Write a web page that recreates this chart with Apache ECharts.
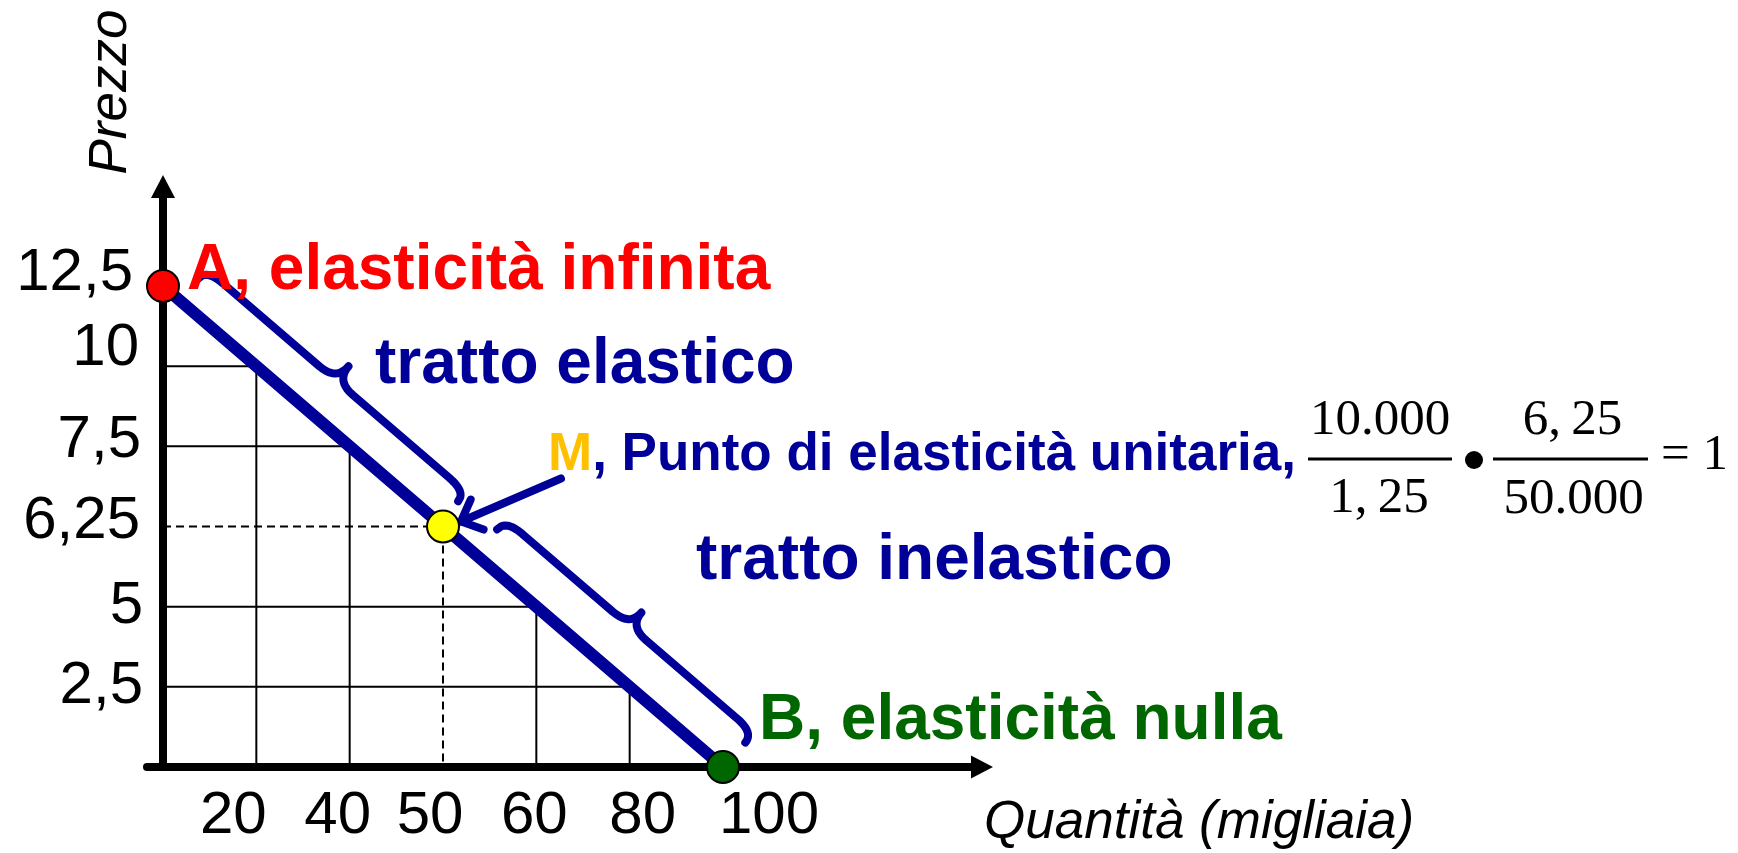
<!DOCTYPE html>
<html><head><meta charset="utf-8">
<script src="https://cdn.jsdelivr.net/npm/echarts@6/dist/echarts.min.js"></script>
<style>html,body{margin:0;padding:0;background:#fff}#c{width:1738px;height:853px}</style>
</head><body><div id="c"></div>
<script>
// ---- data ----
const quantityTicks = [0, 20, 40, 50, 60, 80, 100];          // Quantità (migliaia)
const priceTicks = [0, 2.5, 5, 6.25, 7.5, 10, 12.5];          // Prezzo
const demandQuantity = [0, 20, 40, 50, 60, 80, 100];
const demandPrice = [12.5, 10, 7.5, 6.25, 5, 2.5, 0];
const boxQuantity = [20, 40, 60, 80];
const boxPrice = [10, 7.5, 5, 2.5];
const pointNames = ['A', 'M', 'B'];
const pointQuantity = [0, 50, 100];
const pointPrice = [12.5, 6.25, 0];
const pointTexts = [', elasticità infinita', ', Punto di elasticità unitaria,', ', elasticità nulla'];
const segmentNames = ['tratto elastico', 'tratto inelastico'];
const segmentFrom = ['A', 'M'];
const segmentTo = ['M', 'B'];
const formulaNumerators = ['10.000', '6,\u200925'];
const formulaDenominators = ['1,\u200925', '50.000'];
const formulaResult = '= 1';
const axisNames = ['Quantità (migliaia)', 'Prezzo'];

// ---- helpers ----
const SANS = 'Liberation Sans, Arial, sans-serif';
const SERIF = 'Liberation Serif, Times New Roman, serif';
const NAVY = '#000099';
const W = 1738, H = 853;
const fmt = v => String(v).replace('.', ',');
const xi = q => quantityTicks.indexOf(q);
const yi = p => priceTicks.indexOf(p);
const ptIdx = n => pointNames.indexOf(n);

// label nudges (style)
const xShift = [0, -23, -12, -13, -2, 13, 46];
const yNudge = [[0,0],[0,0],[0,0],[3,5],[2,6],[4,18],[10,13]]; // [left, up]
const xRich = {}, yRich = {};
xShift.forEach((d, i) => {
  xRich['x' + i] = {fontSize: 60, fontFamily: SANS, color: '#000',
    padding: d < 0 ? [0, -2 * d, 0, 0] : [0, 0, 0, 2 * d]};
});
yNudge.forEach((n, i) => {
  yRich['y' + i] = {fontSize: 60, fontFamily: SANS, color: '#000',
    padding: [0, n[0], 2 * n[1], 0]};
});

const pointStyles = [
  {color: '#ff0000', label: {position: 'right', distance: 7, offset: [0, -15], color: '#ff0000'}},
  {color: '#ffff00', label: {position: 'right', distance: 0, offset: [88, -71.5], color: NAVY}},
  {color: '#006600', label: {position: 'right', distance: 19, offset: [0, -46], color: '#006600'}}
];

const BRACE_W = 8;
const braceCfg = [
  {u0: 22, u1: -5, body: 41, end: 29, cusp: 60},
  {u0: 43, u1: 1, body: 46, end: 33, cusp: 64}
];
function quadPts(s, c, e, out) {
  for (let k = 0; k <= 10; k++) {
    const t = k / 10, a = (1 - t) * (1 - t), b = 2 * (1 - t) * t, d = t * t;
    out.push([a * s[0] + b * c[0] + d * e[0], a * s[1] + b * c[1] + d * e[1]]);
  }
}
function bracePoints(p0, p1, c) {
  const dx = p1[0] - p0[0], dy = p1[1] - p0[1], L = Math.hypot(dx, dy);
  const ux = dx / L, uy = dy / L, nx = uy, ny = -ux;
  const P = (u, v) => [p0[0] + u * ux + v * nx, p0[1] + u * uy + v * ny];
  const a = c.u0, b = L + c.u1, m = (a + b) / 2, rE = 22, rC = 22;
  const pts = [];
  quadPts(P(a, c.end), P(a, c.body), P(a + rE, c.body), pts);
  quadPts(P(m - rC, c.body), P(m, c.body), P(m, c.cusp), pts);
  quadPts(P(m, c.cusp), P(m, c.body), P(m + rC, c.body), pts);
  quadPts(P(b - rE, c.body), P(b, c.body), P(b, c.end), pts);
  return pts;
}

const thin = {color: '#000', width: 2};
const series = [];
boxQuantity.forEach((q, i) => {
  series.push({type: 'line', xAxisIndex: 0, yAxisIndex: 0, symbol: 'none', silent: true, clip: false, z: 1,
    lineStyle: thin,
    data: [[xi(0), yi(boxPrice[i])], [xi(q), yi(boxPrice[i])], [xi(q), yi(0)]]});
});
series.push({type: 'line', symbol: 'none', silent: true, clip: false, z: 1,
  lineStyle: {color: '#000', width: 2, type: [8, 5]},
  data: [[xi(0), yi(pointPrice[1])], [xi(pointQuantity[1]), yi(pointPrice[1])], [xi(pointQuantity[1]), yi(0)]]});
series.push({type: 'line', symbol: 'none', silent: true, clip: false, z: 2,
  lineStyle: {color: NAVY, width: 12},
  data: demandQuantity.map((q, i) => [xi(q), yi(demandPrice[i])])});
series.push({type: 'scatter', symbol: 'circle', symbolSize: 32, clip: false, z: 5, silent: true,
  itemStyle: {opacity: 1},
  emphasis: {disabled: true},
  data: pointNames.map((n, i) => ({
    value: [xi(pointQuantity[i]), yi(pointPrice[i])],
    itemStyle: {color: pointStyles[i].color, borderColor: '#000', borderWidth: 2, opacity: 1},
    label: Object.assign({show: true, opacity: 1, fontSize: n === 'M' ? 53 : 64, fontWeight: 'bold', fontFamily: SANS,
      formatter: n === 'M' ? '{m|' + n + '}{t|' + pointTexts[i] + '}' : n + pointTexts[i],
      rich: n === 'M' ? {
        m: {color: '#ffc000', fontSize: 53, fontWeight: 'bold', fontFamily: SANS},
        t: {color: NAVY, fontSize: 53, fontWeight: 'bold', fontFamily: SANS}} : undefined
    }, pointStyles[i].label)
  }))});

const txt = (x, y, text, extra) => ({type: 'text', x: x, y: y, silent: true,
  style: Object.assign({text: text, fontFamily: SANS, fill: '#000', align: 'left', verticalAlign: 'middle',
    textAlign: 'left', textVerticalAlign: 'middle'}, extra)});
const serif = (x, y, text, align) => txt(x, y, text, {fontFamily: SERIF, fontSize: 51, align: align || 'center', textAlign: align || 'center'});
const hidden = {show: false};

const option = {
  animation: false,
  backgroundColor: '#fff',
  grid: [
    {left: 163, top: 286, right: 1015, bottom: 86},
    {left: 147, top: 186.5, right: 756, bottom: 86},
    {left: 0, top: 0, right: 0, bottom: 0}
  ],
  xAxis: [
    {type: 'category', gridIndex: 0, data: quantityTicks.map(String), boundaryGap: false,
      axisLine: {show: false}, axisTick: {show: false}, splitLine: {show: false},
      axisLabel: {interval: 0, margin: 19, fontSize: 60, fontFamily: SANS, color: '#000',
        formatter: (v, i) => i === 0 ? '' : '{x' + i + '|' + v + '}', rich: xRich}},
    {type: 'value', gridIndex: 1, min: 0, max: 1,
      axisLine: {show: true, onZero: false, symbol: ['none', 'triangle'], symbolSize: [23, 22],
        lineStyle: {color: '#000', width: 8}},
      axisTick: {show: false}, axisLabel: {show: false}, splitLine: {show: false}},
    {type: 'value', gridIndex: 2, min: 0, max: W, show: false, axisLine: hidden, splitLine: hidden}
  ],
  yAxis: [
    {type: 'category', gridIndex: 0, data: priceTicks.map(fmt), boundaryGap: false,
      axisLine: {show: false}, axisTick: {show: false}, splitLine: {show: false},
      axisLabel: {interval: 0, margin: 20, fontSize: 60, fontFamily: SANS, color: '#000',
        formatter: (v, i) => i === 0 ? '' : '{y' + i + '|' + v + '}', rich: yRich}},
    {type: 'value', gridIndex: 1, min: 0, max: 1, offset: -16,
      axisLine: {show: true, onZero: false, symbol: ['none', 'triangle'], symbolSize: [24, 23],
        lineStyle: {color: '#000', width: 8}},
      axisTick: {show: false}, axisLabel: {show: false}, splitLine: {show: false}},
    {type: 'value', gridIndex: 2, min: 0, max: H, inverse: true, show: false, axisLine: hidden, splitLine: hidden}
  ],
  series: series,
  graphic: [
    txt(375, 365.8, segmentNames[0], {fontSize: 64, fontWeight: 'bold', fill: NAVY}),
    txt(696, 561.8, segmentNames[1], {fontSize: 64, fontWeight: 'bold', fill: NAVY}),
    txt(984, 823.6, axisNames[0], {fontSize: 53, fontStyle: 'italic'}),
    Object.assign(txt(111.6, 92, axisNames[1], {fontSize: 53, fontStyle: 'italic', align: 'center', textAlign: 'center'}), {rotation: Math.PI / 2}),
    serif(1380, 421, formulaNumerators[0]),
    {type: 'rect', silent: true, shape: {x: 1308, y: 457.5, width: 144, height: 3}, style: {fill: '#000'}},
    serif(1379, 499, formulaDenominators[0]),
    {type: 'circle', silent: true, shape: {cx: 1474, cy: 460, r: 9}, style: {fill: '#000'}},
    serif(1572.5, 421, formulaNumerators[1]),
    {type: 'rect', silent: true, shape: {x: 1493, y: 457.5, width: 155, height: 3}, style: {fill: '#000'}},
    serif(1573.5, 499.5, formulaDenominators[1]),
    serif(1661, 456, formulaResult, 'left')
  ]
};
const chart = echarts.init(document.getElementById('c'));
chart.setOption(option);

// braces and the M arrow, anchored to the data points through grid 0's scales
const px = n => chart.convertToPixel({gridIndex: 0}, [xi(pointQuantity[ptIdx(n)]), yi(pointPrice[ptIdx(n)])]);
const overlay = pts => ({type: 'line', xAxisIndex: 2, yAxisIndex: 2, symbol: 'none', silent: true, clip: false, z: 3,
  lineStyle: {color: NAVY, width: BRACE_W, cap: 'round', join: 'round'}, data: pts});
const extra = segmentFrom.map((f, i) => overlay(bracePoints(px(f), px(segmentTo[i]), braceCfg[i])));
const pM = px('M');
const tip = [pM[0] + 18, pM[1] - 5];
const tail = [tip[0] + 100, tip[1] - 43];
const th = Math.atan2(tail[1] - tip[1], tail[0] - tip[0]);
const w1 = [tip[0] + 24 * Math.cos(th + 0.75), tip[1] + 24 * Math.sin(th + 0.75)];
const w2 = [tip[0] + 24 * Math.cos(th - 0.75), tip[1] + 24 * Math.sin(th - 0.75)];
extra.push(overlay([tail, tip]));
extra.push(Object.assign(overlay([w1, tip, w2]), {lineStyle: {color: NAVY, width: BRACE_W, cap: 'round', join: 'miter'}}));
chart.setOption({series: series.concat(extra)});
</script>
</body></html>
